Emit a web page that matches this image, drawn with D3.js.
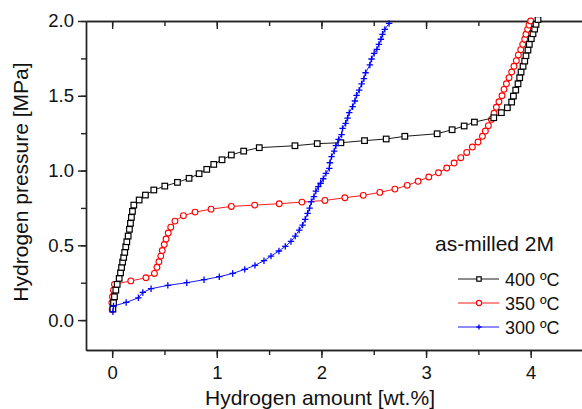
<!DOCTYPE html>
<meta charset="utf-8">
<script src="https://d3js.org/d3.v7.min.js"></script>
<style>
    html, body { margin: 0; background: white; }
    svg text { font-family: "Liberation Sans", Arial, sans-serif; fill: #111; }
    .axis path, .axis line { stroke: #222; stroke-width: 1.4; }
</style>
<body></body>
<script>
    // DATA
    const x400 = [0.007,0.013,0.022,0.035,0.048,0.067,0.08,0.09,0.10,0.11,0.12,0.13,0.14,0.153,0.165,0.175,0.184,0.194,0.207,0.258,0.318,0.398,0.503,0.624,0.735,0.831,0.904,0.971,1.05,1.139,1.257,1.406,1.747,1.96,2.186,2.412,2.619,2.797,3.106,3.249,3.364,3.462,3.647,3.72,3.777,3.818,3.835,3.857,3.879,3.895,3.908,3.927,3.943,3.955,3.974,3.987,4.006,4.022,4.038,4.051,4.07];
    const y400 = [0.074,0.116,0.156,0.20,0.239,0.279,0.316,0.352,0.388,0.419,0.453,0.49,0.524,0.562,0.607,0.647,0.687,0.727,0.769,0.803,0.836,0.87,0.896,0.921,0.948,0.979,1.008,1.041,1.072,1.104,1.13,1.153,1.166,1.18,1.186,1.20,1.211,1.229,1.246,1.273,1.298,1.324,1.353,1.387,1.42,1.458,1.498,1.538,1.58,1.621,1.659,1.697,1.732,1.768,1.806,1.844,1.882,1.915,1.946,1.978,2.01];

    const x350 = [0.0,-0.003,0.003,0.013,0.022,0.178,0.323,0.404,0.428,0.447,0.465,0.479,0.498,0.515,0.536,0.56,0.60,0.681,0.792,0.945,1.139,1.362,1.597,1.814,2.033,2.224,2.40,2.558,2.702,2.82,2.924,3.026,3.119,3.198,3.268,3.332,3.389,3.443,3.497,3.539,3.567,3.596,3.625,3.65,3.672,3.697,3.726,3.745,3.768,3.793,3.818,3.84,3.863,3.882,3.905,3.924,3.943,3.955,3.971,3.984,4.0];
    const y350 = [0.07,0.116,0.156,0.20,0.239,0.262,0.283,0.312,0.353,0.39,0.428,0.465,0.505,0.542,0.582,0.621,0.662,0.698,0.722,0.742,0.76,0.769,0.778,0.789,0.80,0.818,0.834,0.854,0.876,0.901,0.928,0.957,0.985,1.017,1.05,1.086,1.121,1.157,1.191,1.229,1.264,1.30,1.342,1.383,1.423,1.46,1.50,1.543,1.58,1.621,1.659,1.697,1.735,1.773,1.808,1.844,1.878,1.911,1.944,1.973,2.0];

    const x300 = [0.007,0.013,0.134,0.251,0.293,0.372,0.532,0.713,0.878,1.024,1.152,1.267,1.365,1.451,1.518,1.594,1.655,1.709,1.75,1.788,1.82,1.845,1.868,1.887,1.903,1.928,1.947,1.97,1.992,2.017,2.043,2.075,2.081,2.097,2.122,2.138,2.164,2.193,2.202,2.231,2.25,2.266,2.298,2.32,2.336,2.361,2.384,2.406,2.422,2.463,2.479,2.504,2.53,2.549,2.568,2.584,2.606,2.647];
    const y300 = [0.056,0.094,0.118,0.149,0.185,0.21,0.232,0.25,0.27,0.29,0.312,0.339,0.366,0.397,0.428,0.462,0.493,0.526,0.562,0.602,0.635,0.674,0.714,0.749,0.791,0.825,0.863,0.892,0.915,0.945,0.981,1.015,1.052,1.093,1.13,1.166,1.208,1.24,1.282,1.316,1.351,1.387,1.427,1.465,1.503,1.538,1.579,1.614,1.654,1.706,1.746,1.784,1.81,1.844,1.878,1.911,1.944,1.984];

    const xTicks = [0, 1, 2, 3, 4];
    const yTicks = [0.0, 0.5, 1.0, 1.5, 2.0];
    const seriesNames = ["400 ºC", "350 ºC", "300 ºC"];
    const legendTitle = "as-milled 2M";

    // DESIGN CONSTANTS
    const width = 582, height = 409;
    const mLeft = 86, mRight = 583, mTop = 21, mBottom = 350;

    const svg = d3.select("body").append("svg")
        .attr("width", width)
        .attr("height", height);

    const x = d3.scaleLinear().domain([-0.25, 4.5]).range([mLeft, mRight]);
    const y = d3.scaleLinear().domain([-0.2, 2.0]).range([mBottom, mTop]);

    // minor ticks
    const xMinor = d3.range(0, 4.51, 0.5);
    const yMinor = d3.range(0, 2.01, 0.25);

    svg.append("g").attr("class", "axis")
        .attr("transform", `translate(0,${mBottom})`)
        .call(d3.axisBottom(x).tickValues(xMinor).tickSize(5).tickSizeOuter(0).tickFormat(""));
    svg.append("g").attr("class", "axis")
        .attr("transform", `translate(0,${mBottom})`)
        .call(d3.axisBottom(x).tickValues(xTicks).tickSize(8).tickSizeOuter(0).tickPadding(8).tickFormat(d3.format("d")))
        .selectAll("text").style("font-size", "18.5px").attr("fill", "#111");

    svg.append("g").attr("class", "axis")
        .attr("transform", `translate(${mLeft},0)`)
        .call(d3.axisLeft(y).tickValues(yMinor).tickSize(5).tickSizeOuter(0).tickFormat(""));
    svg.append("g").attr("class", "axis")
        .attr("transform", `translate(${mLeft},0)`)
        .call(d3.axisLeft(y).tickValues(yTicks).tickSize(8).tickSizeOuter(0).tickPadding(4).tickFormat(d3.format(".1f")))
        .selectAll("text").style("font-size", "18.5px").attr("fill", "#111");

    // top axis, ticks inward
    svg.append("g").attr("class", "axis")
        .attr("transform", `translate(0,${mTop})`)
        .call(d3.axisBottom(x).tickValues(xMinor).tickSize(5).tickSizeOuter(0).tickFormat(""));
    svg.append("g").attr("class", "axis")
        .attr("transform", `translate(0,${mTop})`)
        .call(d3.axisBottom(x).tickValues(xTicks).tickSize(8).tickSizeOuter(0).tickFormat(""));
    svg.append("line").attr("x1", mRight).attr("x2", mRight).attr("y1", mTop).attr("y2", mBottom)
        .attr("stroke", "#222").attr("stroke-width", 1.4);

    // clip
    svg.append("clipPath").attr("id", "clip").append("rect")
        .attr("x", mLeft).attr("y", mTop - 4).attr("width", mRight - mLeft).attr("height", mBottom - mTop + 4);

    const plot = svg.append("g").attr("clip-path", "url(#clip)");

    const series = [
        { name: seriesNames[1], xs: x350, ys: y350, color: "#ff0000", marker: "circle" },
        { name: seriesNames[0], xs: x400, ys: y400, color: "#000000", marker: "square" },
        { name: seriesNames[2], xs: x300, ys: y300, color: "#0000ff", marker: "plus" }
    ];

    const line = d3.line().x(d => x(d[0])).y(d => y(d[1]));

    function drawMarker(g, kind, color, cx, cy, s) {
        if (kind === "square") {
            g.append("rect").attr("x", cx - s).attr("y", cy - s)
                .attr("width", 2 * s).attr("height", 2 * s)
                .attr("fill", "white").attr("stroke", color).attr("stroke-width", 1.2);
        } else if (kind === "circle") {
            g.append("circle").attr("cx", cx).attr("cy", cy).attr("r", s)
                .attr("fill", "white").attr("stroke", color).attr("stroke-width", 1.1);
        } else {
            g.append("path").attr("d", `M${cx - s},${cy}H${cx + s}M${cx},${cy - s}V${cy + s}`)
                .attr("stroke", color).attr("stroke-width", 1.3);
        }
    }

    series.forEach(s => {
        const pts = s.xs.map((v, i) => [v, s.ys[i]]);
        plot.append("path").datum(pts)
            .attr("d", line)
            .attr("fill", "none")
            .attr("stroke", s.color)
            .attr("stroke-width", 0.9);
        const size = s.marker === "square" ? 2.8 : s.marker === "circle" ? 2.9 : 3.2;
        pts.forEach(p => drawMarker(plot, s.marker, s.color, x(p[0]), y(p[1]), size));
    });

    // axis titles
    svg.append("text")
        .attr("x", 320).attr("y", 405)
        .attr("text-anchor", "middle")
        .style("font-size", "21px")
        .text("Hydrogen amount [wt.%]");
    svg.append("text")
        .attr("transform", "translate(28,182) rotate(-90)")
        .attr("text-anchor", "middle")
        .style("font-size", "21px")
        .text("Hydrogen pressure [MPa]");

    // legend
    svg.append("text")
        .attr("x", 435).attr("y", 251)
        .style("font-size", "21px")
        .text(legendTitle);

    const legendOrder = [series[1], series[0], series[2]];
    legendOrder.forEach((s, i) => {
        const ly = 279 + i * 24;
        svg.append("line").attr("x1", 458).attr("x2", 499).attr("y1", ly).attr("y2", ly)
            .attr("stroke", s.color).attr("stroke-width", 0.9);
        const ms = s.marker === "square" ? 2.2 : 2.6;
        drawMarker(svg, s.marker, s.color, 479, ly, ms);
        svg.append("text")
            .attr("x", 505).attr("y", ly + 6.5)
            .style("font-size", "18px")
            .text(s.name);
    });
</script>
